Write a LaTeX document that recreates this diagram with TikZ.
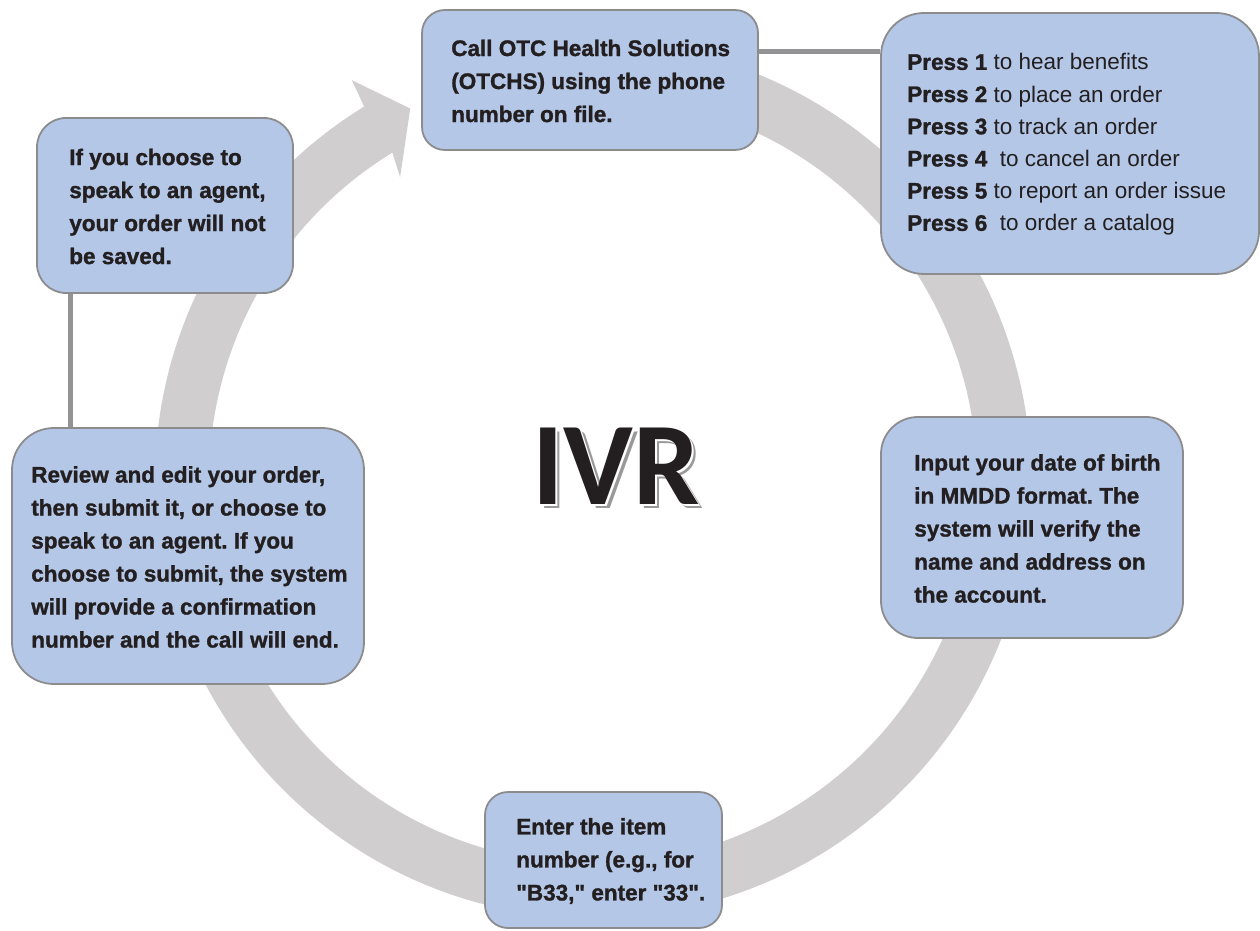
\documentclass[tikz,border=0pt]{standalone}
\usepackage{fontspec}
\setmainfont{Liberation Sans}
\newfontfamily\stepfont{Liberation Sans}[BoldFeatures={FakeBold=1.3}]
\newfontfamily\ivrfont{Carlito}
\usetikzlibrary{positioning}
\definecolor{stepfill}{HTML}{B4C7E7}
\definecolor{stepedge}{RGB}{140,140,142}
\definecolor{ringgray}{HTML}{D0CECE}
\definecolor{linkgray}{RGB}{147,147,150}
\definecolor{ink}{RGB}{35,31,32}
\frenchspacing

\begin{document}
\begin{tikzpicture}[
	x=1pt, y=1pt,
	% Styles for the step boxes and their texts
	stepbox/.style={draw=stepedge, line width=1.8pt, fill=stepfill, inner sep=0pt},
	steptext/.style={anchor=west, align=left, inner sep=0pt, text=ink, font=\stepfont\fontsize{22.5}{33}\selectfont\bfseries},
	menutext/.style={steptext, font=\stepfont\fontsize{22.5}{32.2}\selectfont},
	link/.style={draw=linkgray, line width=5pt},
	ringfill/.style={fill=ringgray},
	ivrtext/.style={font=\ivrfont\bfseries\fontsize{118}{118}\selectfont, inner sep=0pt}
	]
	\useasboundingbox (0,0) rectangle (1260,930);
	
	% ==========================================
	% 1. CIRCULAR ARROW
	% ==========================================
	\begin{scope}[shift={(593,450)}]
		\fill[ringfill] (100:438) arc[start angle=100, end angle=-238.5, radius=438]
		-- (-238.9:467) -- (-243.8:414) -- (-237.5:359) -- (-238.5:384)
		arc[start angle=-238.5, end angle=100, radius=384] -- cycle;
	\end{scope}
	
	% ==========================================
	% 2. STEP BOXES
	% ==========================================
	\node[stepbox, minimum width=336pt, minimum height=140pt, rounded corners=23pt] (call) at (590,850) {};
	\node[stepbox, minimum width=378pt, minimum height=261pt, rounded corners=43pt] (menu) at (1070,786.5) {};
	\node[stepbox, minimum width=256pt, minimum height=175pt, rounded corners=29pt] (agent) at (165,724.5) {};
	\node[stepbox, minimum width=352pt, minimum height=256pt, rounded corners=42pt] (review) at (188,374) {};
	\node[stepbox, minimum width=302pt, minimum height=221pt, rounded corners=37pt] (verify) at (1032,402.5) {};
	\node[stepbox, minimum width=237pt, minimum height=136pt, rounded corners=23pt] (item) at (603.5,70) {};
	
	% Connectors between boxes
	\coordinate (tap) at ([yshift=28pt]call.east);
	\draw[link] (tap) -- (tap -| menu.west);
	\coordinate (drop) at ([xshift=-95pt]agent.south);
	\draw[link] (drop) -- (drop |- review.north);
	
	% ==========================================
	% 3. STEP TEXTS
	% ==========================================
	\node[steptext] (calltxt) at ([xshift=30pt,yshift=-1pt]call.west)
	{Call OTC Health Solutions\\(OTCHS) using the phone\\number on file.};
	\node[menutext] (menutxt) at ([xshift=27pt,yshift=-1pt]menu.west)
	{\textbf{Press 1} to hear benefits\\
		\textbf{Press 2} to place an order\\
		\textbf{Press 3} to track an order\\
		\textbf{Press 4} \ to cancel an order\\
		\textbf{Press 5} to report an order issue\\
		\textbf{Press 6} \ to order a catalog};
	\node[steptext] (agenttxt) at ([xshift=33pt,yshift=-1pt]agent.west)
	{If you choose to\\speak to an agent,\\your order will not\\be saved.};
	\node[steptext] (reviewtxt) at ([xshift=20pt,yshift=-1pt]review.west)
	{Review and edit your order,\\then submit it, or choose to\\speak to an agent. If you\\choose to submit, the system\\will provide a confirmation\\number and the call will end.};
	\node[steptext] (verifytxt) at ([xshift=34pt,yshift=-1pt]verify.west)
	{Input your date of birth\\in MMDD format. The\\system will verify the\\name and address on\\the account.};
	\node[steptext] (itemtxt) at ([xshift=32pt,yshift=-1pt]item.west)
	{Enter the item\\number (e.g., for\\"B33," enter "33".};
	
	% ==========================================
	% 4. CENTRE TITLE
	% ==========================================
	\node[ivrtext, text=black!40, shift={(4.5,-4.5)}] (ivrshadow) at (616,464) {IVR};
	\node[ivrtext, text=white, shift={(2,-2)}] (ivrhalo) at (616,464) {IVR};
	\node[ivrtext, text=ink] (ivr) at (616,464) {IVR};
\end{tikzpicture}
\end{document}
